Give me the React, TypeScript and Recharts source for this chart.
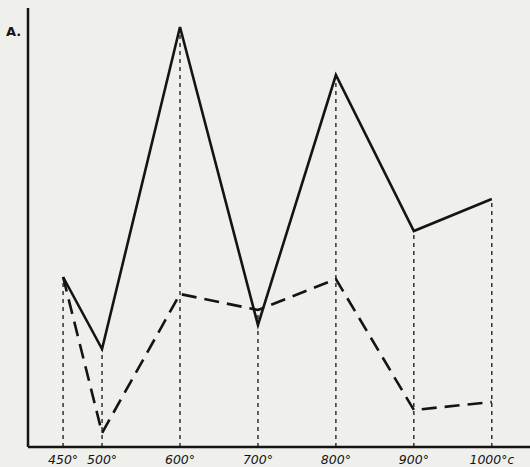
import { LineChart, Line, XAxis, YAxis, ReferenceLine } from "recharts";

// temperatures (°C) on the x axis
const temps = [450, 500, 600, 700, 800, 900, 1000];
// readings in arbitrary units (axis has no scale)
const solidSeries = [170, 98, 420, 122, 372, 216, 248];
const dashedSeries = [170, 14, 153, 137, 168, 37, 45];
const tickLabels = ["450°", "500°", "600°", "700°", "800°", "900°", "1000°"];

const data = temps.map((t, i) => ({ t, solid: solidSeries[i], dashed: dashedSeries[i] }));

const ink = "#141414";

function TempTick(props: any) {
  const { x, y, payload } = props;
  const i = temps.indexOf(payload.value);
  const last = i === temps.length - 1;
  return (
    <text
      x={x}
      y={y + 9}
      textAnchor="middle"
      fontFamily="DejaVu Sans"
      fontStyle="italic"
      fontSize={12.5}
      fill={ink}
    >
      {tickLabels[i]}
      {last && <tspan fontSize={12}>c</tspan>}
    </text>
  );
}

export default function App() {
  return (
    <div style={{ position: "absolute", left: 0, top: 0, width: 530, height: 467, background: "#efefec" }}>
      <LineChart width={530} height={467} data={data} margin={{ top: 8, right: 0, bottom: 0, left: 0 }}>
        <XAxis
          dataKey="t"
          type="number"
          domain={[405, 1049]}
          ticks={temps}
          tick={<TempTick />}
          tickLine={false}
          axisLine={{ stroke: ink, strokeWidth: 2.5 }}
          height={20}
          allowDataOverflow
        />
        <YAxis
          type="number"
          domain={[0, 439]}
          width={28}
          tick={false}
          tickLine={false}
          axisLine={{ stroke: ink, strokeWidth: 2.5 }}
        />
        {data.map((d) => (
          <ReferenceLine
            key={d.t}
            segment={[
              { x: d.t, y: 0 },
              { x: d.t, y: Math.max(d.solid, d.dashed) },
            ]}
            stroke={ink}
            strokeWidth={1.3}
            strokeDasharray="4 4"
          />
        ))}
        <Line
          dataKey="solid"
          type="linear"
          stroke={ink}
          strokeWidth={2.6}
          dot={false}
          isAnimationActive={false}
        />
        <Line
          dataKey="dashed"
          type="linear"
          stroke={ink}
          strokeWidth={2.6}
          strokeDasharray="15 8"
          dot={false}
          isAnimationActive={false}
        />
      </LineChart>
      <div
        style={{
          position: "absolute",
          left: 6,
          top: 24,
          fontFamily: "DejaVu Sans",
          fontWeight: "bold",
          fontSize: 13,
          color: ink,
        }}
      >
        A.
      </div>
    </div>
  );
}
